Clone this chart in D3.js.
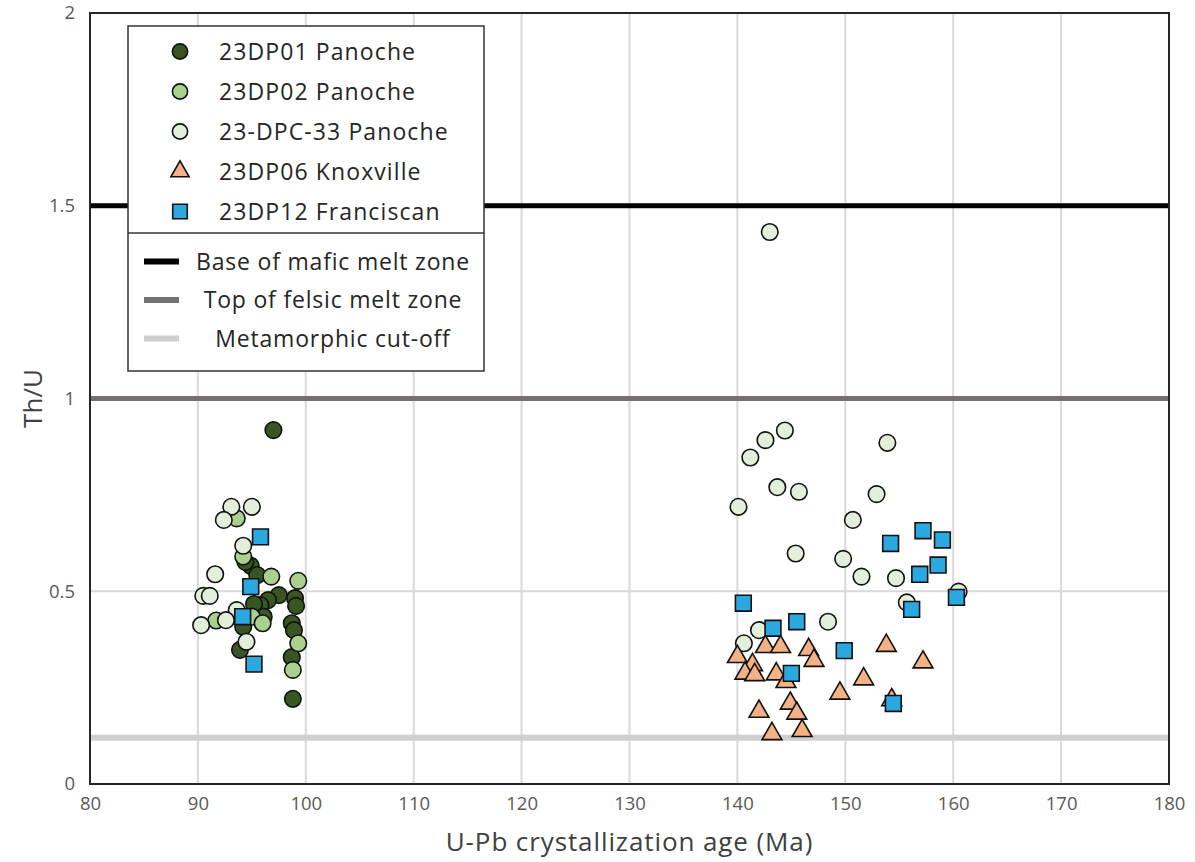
<!DOCTYPE html>
<html><head><meta charset="utf-8">
<script src="https://cdn.jsdelivr.net/npm/d3@7"></script>
<style>
body{margin:0;background:#fff;}
text{font-family:"Open Sans",sans-serif;}
</style></head>
<body><svg id="c" width="1195" height="862"></svg>
<script>
// ---- data ----
const xTicks = [80, 90, 100, 110, 120, 130, 140, 150, 160, 170, 180];
const yTicks = [0, 0.5, 1, 1.5, 2];
const yTickLabels = ["0", "0.5", "1", "1.5", "2"];

const dp01Age = [97.0, 94.9, 95.5, 97.5, 96.5, 95.8, 95.2, 99.0, 99.1, 96.1, 94.2, 98.7, 98.9, 93.9, 98.7, 98.8, 94.4];
const dp01ThU = [0.918, 0.566, 0.542, 0.490, 0.477, 0.464, 0.467, 0.482, 0.462, 0.434, 0.408, 0.417, 0.399, 0.348, 0.329, 0.221, 0.576];

const dp02Age = [93.6, 94.2, 96.8, 99.3, 95.0, 96.0, 91.7, 99.3, 98.8];
const dp02ThU = [0.689, 0.590, 0.538, 0.527, 0.434, 0.417, 0.424, 0.365, 0.296];

const dpc33Age = [93.1, 95.0, 92.4, 94.2, 91.6, 90.5, 91.1, 93.6, 92.6, 90.3, 94.5,
  143.0, 144.4, 142.6, 141.2, 143.7, 145.7, 140.1, 145.4, 149.8, 150.7, 148.4, 142.0, 140.6, 153.9, 152.9, 151.5, 154.7, 155.7, 160.5];
const dpc33ThU = [0.719, 0.719, 0.685, 0.618, 0.544, 0.488, 0.488, 0.451, 0.425, 0.412, 0.369,
  1.432, 0.917, 0.892, 0.847, 0.770, 0.758, 0.719, 0.598, 0.584, 0.685, 0.421, 0.399, 0.365, 0.885, 0.752, 0.538, 0.534, 0.471, 0.499];

const dp06Age = [140.0, 142.6, 144.0, 146.6, 147.1, 141.4, 140.7, 141.6, 143.6, 144.5, 149.5, 144.9, 142.0, 145.5, 143.2, 146.0, 153.8, 157.2, 151.7, 154.3];
const dp06ThU = [0.330, 0.356, 0.356, 0.348, 0.320, 0.309, 0.287, 0.283, 0.285, 0.265, 0.235, 0.209, 0.188, 0.183, 0.130, 0.138, 0.359, 0.316, 0.272, 0.218];

const dp12Age = [95.8, 94.9, 94.15, 95.2, 157.2, 159.0, 154.2, 158.6, 156.9, 160.3, 156.15, 149.9, 154.45, 140.55, 145.5, 143.3, 145.0];
const dp12ThU = [0.641, 0.512, 0.434, 0.311, 0.657, 0.633, 0.624, 0.568, 0.544, 0.484, 0.453, 0.346, 0.209, 0.469, 0.421, 0.404, 0.287];

const seriesNames = ["23DP01 Panoche", "23DP02 Panoche", "23-DPC-33 Panoche", "23DP06 Knoxville", "23DP12 Franciscan"];
const refNames = ["Base of mafic melt zone", "Top of felsic melt zone", "Metamorphic cut-off"];
const refValues = [1.5, 1.0, 0.12];

// ---- styling ----
const seriesColors = ["#375623", "#a9d08e", "#e2efda", "#f4b183", "#29a9e0"];
const seriesShapes = [d3.symbolCircle, d3.symbolCircle, d3.symbolCircle, d3.symbolTriangle, d3.symbolSquare];
const seriesSizes = [215, 215, 215, 170, 250];
const refColors = ["#000000", "#767171", "#d0cece"];
const refWidths = [5, 5, 6];

const series = [
  [dp01Age, dp01ThU], [dp02Age, dp02ThU], [dpc33Age, dpc33ThU], [dp06Age, dp06ThU], [dp12Age, dp12ThU]
].map((s, i) => ({ name: seriesNames[i], pts: s[0].map((a, j) => ({ x: a, y: s[1][j] })) }));

const svg = d3.select("#c");
svg.append("rect").attr("width", 1195).attr("height", 862).attr("fill", "#fff");

const L = 90, R = 1169, T = 13, B = 784;
const x = d3.scaleLinear().domain([80, 180]).range([L, R]);
const y = d3.scaleLinear().domain([0, 2]).range([B, T]);

// gridlines
const g = svg.append("g");
g.selectAll(".vg").data(xTicks.slice(1, -1)).enter().append("line")
  .attr("x1", d => x(d)).attr("x2", d => x(d)).attr("y1", T).attr("y2", B)
  .attr("stroke", "#d9d9d9").attr("stroke-width", 2);
g.selectAll(".hg").data(yTicks.slice(1, -1)).enter().append("line")
  .attr("x1", L).attr("x2", R).attr("y1", d => y(d)).attr("y2", d => y(d))
  .attr("stroke", "#d9d9d9").attr("stroke-width", 2);

// reference lines
g.selectAll(".ref").data(refValues).enter().append("line")
  .attr("x1", L).attr("x2", R).attr("y1", d => y(d)).attr("y2", d => y(d))
  .attr("stroke", (d, i) => refColors[i]).attr("stroke-width", (d, i) => refWidths[i]);

// axes
const xAxis = d3.axisBottom(x).tickValues(xTicks).tickSize(0).tickPadding(13).tickFormat(d3.format("d"));
const yAxis = d3.axisLeft(y).tickValues(yTicks).tickSize(0).tickPadding(15).tickFormat((d, i) => yTickLabels[i]);
const gx = svg.append("g").attr("transform", `translate(0,${B})`).call(xAxis);
const gy = svg.append("g").attr("transform", `translate(${L},0)`).call(yAxis);
[gx, gy].forEach(a => {
  a.select(".domain").remove();
  a.selectAll("text").attr("fill", "#595959").style("font-size", "18.5px").style("font-family", '"Open Sans",sans-serif');
});

// frame
svg.append("rect").attr("x", L).attr("y", T).attr("width", R - L).attr("height", B - T)
  .attr("fill", "none").attr("stroke", "#262626").attr("stroke-width", 2);

// points
series.forEach((s, i) => {
  svg.append("g").selectAll("path").data(s.pts).enter().append("path")
    .attr("d", d3.symbol().type(seriesShapes[i]).size(seriesSizes[i]))
    .attr("transform", d => `translate(${x(d.x)},${y(d.y)})`)
    .attr("fill", seriesColors[i]).attr("stroke", "#111").attr("stroke-width", 1.6);
});

// axis titles
svg.append("text").attr("x", (L + R) / 2).attr("y", 851).attr("text-anchor", "middle")
  .attr("fill", "#404040").style("font-size", "26px").style("letter-spacing", "0.9px")
  .text("U-Pb crystallization age (Ma)");
svg.append("text").attr("transform", `translate(42,${(T + B) / 2}) rotate(-90)`).attr("text-anchor", "middle")
  .attr("fill", "#404040").style("font-size", "26px").text("Th/U");

// legend
const lg = svg.append("g");
lg.append("rect").attr("x", 128).attr("y", 26).attr("width", 356).attr("height", 345)
  .attr("fill", "#fff").attr("stroke", "#333").attr("stroke-width", 1.5);
lg.append("line").attr("x1", 128).attr("x2", 484).attr("y1", 233).attr("y2", 233)
  .attr("stroke", "#333").attr("stroke-width", 1.5);
const rowY = d3.scaleLinear().domain([0, 4]).range([51.5, 211.5]);
seriesNames.forEach((n, i) => {
  lg.append("path").attr("d", d3.symbol().type(seriesShapes[i]).size(seriesSizes[i] * 0.85))
    .attr("transform", `translate(180,${rowY(i)})`)
    .attr("fill", seriesColors[i]).attr("stroke", "#111").attr("stroke-width", 1.6);
  lg.append("text").attr("x", 219).attr("y", rowY(i)).attr("dy", "0.35em")
    .attr("fill", "#262626").style("font-size", "23px").style("letter-spacing", "1.1px").text(n);
});
const refY = d3.scaleLinear().domain([0, 2]).range([261.5, 338.5]);
refNames.forEach((n, i) => {
  lg.append("line").attr("x1", 144).attr("x2", 179).attr("y1", refY(i)).attr("y2", refY(i))
    .attr("stroke", refColors[i]).attr("stroke-width", 6);
  lg.append("text").attr("x", 333).attr("y", refY(i)).attr("dy", "0.35em").attr("text-anchor", "middle")
    .attr("fill", "#262626").style("font-size", "23px").style("letter-spacing", "0.8px").text(n);
});
</script></body></html>
